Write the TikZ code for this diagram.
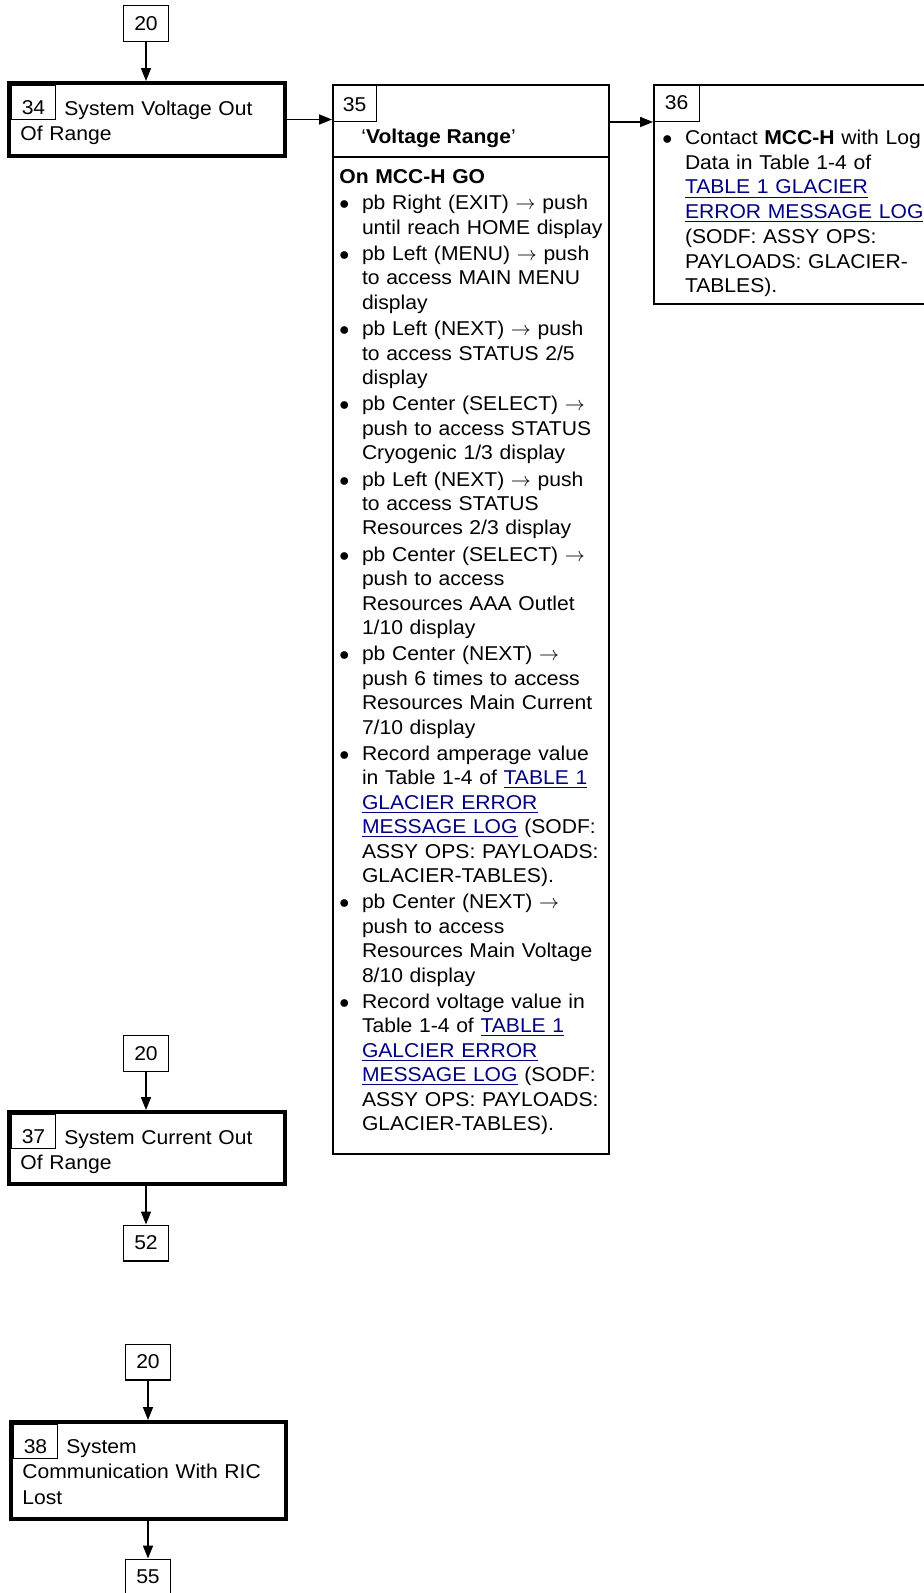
\documentclass[tikz,border=0pt]{standalone}
\usepackage{fontspec}
\setmainfont{Liberation Sans}[FakeStretch=1.055]
\usetikzlibrary{arrows.meta}
\definecolor{linkblue}{RGB}{0,0,128}
\newlength\bulind
\setlength\bulind{11.3pt}
\newcommand\bul{\makebox[\bulind][l]{$\bullet$}}
\newcommand\itm{\\[1pt]\bul}
\newcommand\cnt{\\\hspace*{\bulind}}
\newcommand\lnk[1]{\textcolor{linkblue}{\underline{#1}}}

\begin{document}
\begin{tikzpicture}[x=0.5pt, y=-0.5pt,
        font=\fontsize{10}{12.2}\selectfont,
        numbox/.style={draw, line width=0.6pt, inner sep=0pt, minimum width=22.4pt, minimum height=17.9pt},
        stepbox/.style={draw, line width=2pt, inner sep=0pt, anchor=north west},
        steptag/.style={draw, line width=0.6pt, inner sep=0pt, anchor=north west, minimum width=21.9pt, minimum height=17pt, text height=11.5pt, text depth=0pt},
        panel/.style={draw, line width=0.8pt, inner sep=0pt, anchor=north west},
        paneltag/.style={draw, line width=0.6pt, inner sep=0pt, anchor=north west, minimum height=18.4pt},
        steptext/.style={anchor=north west, inner sep=0pt, text width=135pt, align=left, font=\fontsize{10}{12.7}\selectfont},
        bodytext/.style={anchor=north west, inner sep=0pt, text width=150pt, align=left},
        flow/.style={-{Triangle[length=6.4pt,width=5pt]}, line width=0.6pt}]
        \useasboundingbox (0,0) rectangle (924,1593);
        % Step 34
        \node[numbox] (n20a) at (146,23.5) {20};
        \node[stepbox, minimum width=138pt, minimum height=36.5pt] (s34) at (7,81) {};
        \node[steptag] (l34) at (11,85) {34};
        \node[steptext] (t34) at (20,100.7) {\hspace*{22pt}System Voltage Out\\Of Range};
        % Step 35
        \node[panel, minimum width=138.2pt, minimum height=534.7pt] (s35) at (332,84) {};
        \node[paneltag, minimum width=21.9pt, text height=8.7pt, text depth=0pt] (l35) at (332,84) {35};
        \draw[line width=0.8pt] ([yshift=-36.5pt]s35.north west) -- ([yshift=-36.5pt]s35.north east);
        \node[anchor=base west, inner sep=0pt] (h35) at (361,144) {`\textbf{Voltage Range}'};
        \node[bodytext] (b35) at (339,169) {\textbf{On MCC-H GO}%
            \itm pb Right (EXIT) $\rightarrow$ push\cnt until reach HOME display%
            \itm pb Left (MENU) $\rightarrow$ push\cnt to access MAIN MENU\cnt display%
            \itm pb Left (NEXT) $\rightarrow$ push\cnt to access STATUS 2/5\cnt display%
            \itm pb Center (SELECT) $\rightarrow$\cnt push to access STATUS\cnt Cryogenic 1/3 display%
            \itm pb Left (NEXT) $\rightarrow$ push\cnt to access STATUS\cnt Resources 2/3 display%
            \itm pb Center (SELECT) $\rightarrow$\cnt push to access\cnt Resources AAA Outlet\cnt 1/10 display%
            \itm pb Center (NEXT) $\rightarrow$\cnt push 6 times to access\cnt Resources Main Current\cnt 7/10 display%
            \itm Record amperage value\cnt in Table 1-4 of \lnk{TABLE 1}\cnt \lnk{GLACIER ERROR}\cnt \lnk{MESSAGE LOG} (SODF:\cnt ASSY OPS: PAYLOADS:\cnt GLACIER-TABLES).%
            \itm pb Center (NEXT) $\rightarrow$\cnt push to access\cnt Resources Main Voltage\cnt 8/10 display%
            \itm Record voltage value in\cnt Table 1-4 of \lnk{TABLE 1}\cnt \lnk{GALCIER ERROR}\cnt \lnk{MESSAGE LOG} (SODF:\cnt ASSY OPS: PAYLOADS:\cnt GLACIER-TABLES).};
        % Step 36
        \node[panel, minimum width=150pt, minimum height=109.7pt] (s36) at (653,84) {};
        \node[paneltag, minimum width=22.9pt] (l36) at (653,84) {36};
        \node[bodytext, font=\fontsize{10}{12.35}\selectfont] (b36) at (662,129.7) {\bul Contact \textbf{MCC-H} with Log\cnt Data in Table 1-4 of\cnt \lnk{TABLE 1 GLACIER}\cnt \lnk{ERROR MESSAGE LOG}\cnt (SODF: ASSY OPS:\cnt PAYLOADS: GLACIER-\cnt TABLES).};
        % Step 37
        \node[numbox] (n20b) at (146,1053.5) {20};
        \node[stepbox, minimum width=138pt, minimum height=36pt] (s37) at (7,1110) {};
        \node[steptag] (l37) at (11,1114) {37};
        \node[steptext] (t37) at (20,1130.2) {\hspace*{22pt}System Current Out\\Of Range};
        \node[numbox] (n52) at (146,1243) {52};
        % Step 38
        \node[numbox] (n20c) at (148,1362) {20};
        \node[stepbox, minimum width=137.7pt, minimum height=48.3pt] (s38) at (9,1420) {};
        \node[steptag] (l38) at (13,1424) {38};
        \node[steptext] (t38) at (22,1439.2) {\hspace*{22pt}System\\Communication With RIC\\Lost};
        \node[numbox] (n55) at (148,1577) {55};
        % Connectors
        \draw[flow] (n20a.south) -- (n20a.south |- s34.north);
        \draw[flow] (s34.east) -- (s34.east -| s35.west);
        \draw[flow] (s35.east |- l36.south) -- (l36.south west);
        \draw[flow] (n20b.south) -- (n20b.south |- s37.north);
        \draw[flow] (s37.south -| n52.north) -- (n52.north);
        \draw[flow] (n20c.south) -- (n20c.south |- s38.north);
        \draw[flow] (s38.south -| n55.north) -- (n55.north);
    \end{tikzpicture}
\end{document}
